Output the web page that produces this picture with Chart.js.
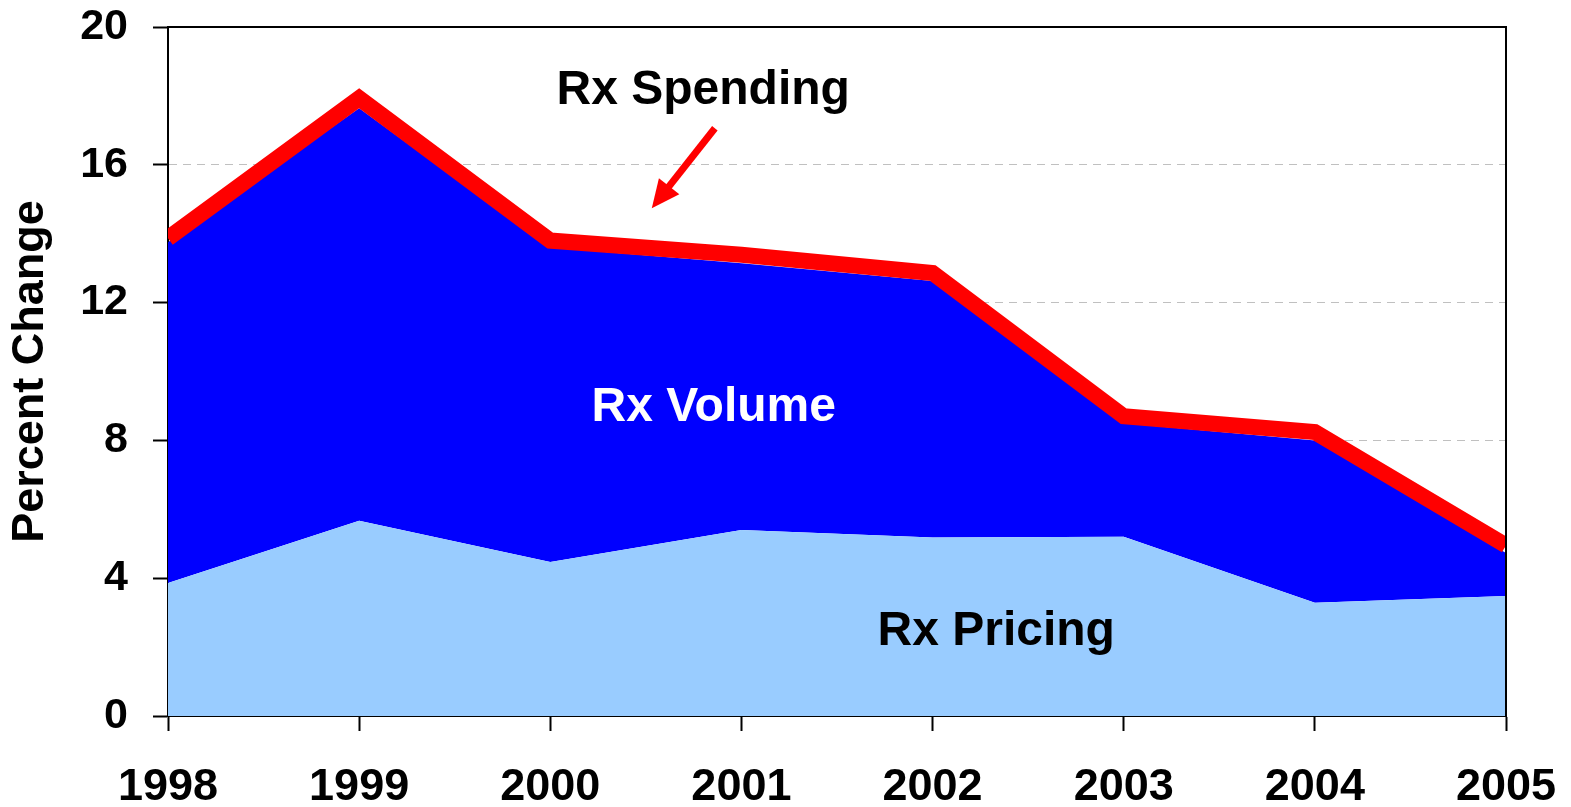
<!DOCTYPE html>
<html>
<head>
<meta charset="utf-8">
<script src="https://cdn.jsdelivr.net/npm/chart.js@4/dist/chart.umd.min.js"></script>
<style>
    html, body { margin: 0; padding: 0; background: #fff; }
    #wrap { width: 1571px; height: 807px; }
</style>
</head>
<body>
<div id="wrap"><canvas id="rxChart"></canvas></div>
<script>
// Values
const years = ['1998', '1999', '2000', '2001', '2002', '2003', '2004', '2005'];
const rxPricing = [3.86, 5.67, 4.47, 5.40, 5.18, 5.20, 3.29, 3.48];
const rxVolume = [9.89, 11.97, 9.13, 7.74, 7.45, 3.30, 4.71, 1.25];
const rxSpending = [13.87, 17.93, 13.80, 13.39, 12.86, 8.70, 8.24, 4.95];
const yTicks = [0, 4, 8, 12, 16, 20];

const FONT = '"Liberation Sans", Arial, sans-serif';

// Frame, labels and arrow drawn on top of the areas
const overlayPlugin = {
    id: 'overlay',
    afterDatasetsDraw(chart) {
        const ctx = chart.ctx;
        const area = chart.chartArea;
        const x = chart.scales.x;
        const y = chart.scales.y;

        ctx.save();
        // top and right frame
        ctx.strokeStyle = '#000';
        ctx.lineWidth = 2;
        ctx.beginPath();
        ctx.moveTo(area.left, area.top);
        ctx.lineTo(area.right, area.top);
        ctx.lineTo(area.right, area.bottom);
        ctx.stroke();

        // text labels
        ctx.font = 'bold 48px ' + FONT;
        ctx.textAlign = 'center';
        ctx.textBaseline = 'middle';
        ctx.fillStyle = '#000';
        ctx.fillText('Rx Spending', x.getPixelForValue(2.80), y.getPixelForValue(18.16));
        ctx.fillStyle = '#fff';
        ctx.fillText('Rx Volume', x.getPixelForValue(2.855), y.getPixelForValue(8.94));
        ctx.fillStyle = '#000';
        ctx.fillText('Rx Pricing', x.getPixelForValue(4.333), y.getPixelForValue(2.44));

        // arrow
        const x1 = x.getPixelForValue(2.861), y1 = y.getPixelForValue(17.06);
        const x2 = x.getPixelForValue(2.531), y2 = y.getPixelForValue(14.74);
        const ang = Math.atan2(y2 - y1, x2 - x1);
        const headLen = 28, headW = 13;
        ctx.strokeStyle = '#ff0000';
        ctx.fillStyle = '#ff0000';
        ctx.lineWidth = 7;
        ctx.beginPath();
        ctx.moveTo(x1, y1);
        ctx.lineTo(x2 - Math.cos(ang) * headLen * 0.8, y2 - Math.sin(ang) * headLen * 0.8);
        ctx.stroke();
        const bx = x2 - Math.cos(ang) * headLen, by = y2 - Math.sin(ang) * headLen;
        ctx.beginPath();
        ctx.moveTo(x2, y2);
        ctx.lineTo(bx + Math.sin(ang) * headW, by - Math.cos(ang) * headW);
        ctx.lineTo(bx - Math.sin(ang) * headW, by + Math.cos(ang) * headW);
        ctx.closePath();
        ctx.fill();
        ctx.restore();
    }
};

const ctx = document.getElementById('rxChart');

new Chart(ctx, {
    type: 'line',
    data: {
        labels: years,
        datasets: [
            {
                label: 'Rx Spending',
                data: rxSpending,
                yAxisID: 'y2',
                borderColor: '#ff0000',
                borderWidth: 16,
                fill: false,
                pointRadius: 0,
                tension: 0,
                clip: 0
            },
            {
                label: 'Rx Pricing',
                data: rxPricing,
                yAxisID: 'y',
                backgroundColor: '#99ccff',
                borderWidth: 0,
                fill: 'origin',
                pointRadius: 0,
                tension: 0
            },
            {
                label: 'Rx Volume',
                data: rxVolume,
                yAxisID: 'y',
                backgroundColor: '#0000ff',
                borderWidth: 0,
                fill: '-1',
                pointRadius: 0,
                tension: 0
            }
        ]
    },
    options: {
        responsive: true,
        maintainAspectRatio: false,
        animation: false,
        layout: {
            padding: { top: 27, right: 65, left: 0, bottom: 0 }
        },
        plugins: {
            legend: { display: false },
            tooltip: { enabled: false }
        },
        scales: {
            x: {
                offset: false,
                afterFit(scale) {
                    scale.height = 91;
                    scale.paddingLeft = 0;
                    scale.paddingRight = 0;
                },
                grid: {
                    drawOnChartArea: false,
                    tickLength: 15,
                    tickColor: '#000',
                    tickWidth: 2
                },
                border: { color: '#000', width: 2 },
                ticks: {
                    color: '#000',
                    font: { family: FONT, size: 45, weight: 'bold' },
                    padding: 30,
                    maxRotation: 0,
                    autoSkip: false
                }
            },
            y: {
                stacked: true,
                min: 0,
                max: 20,
                afterFit(scale) {
                    scale.width = 168;
                    scale.paddingTop = 0;
                    scale.paddingBottom = 0;
                },
                afterBuildTicks(scale) {
                    scale.ticks = yTicks.map(v => ({ value: v }));
                },
                grid: {
                    color: ctx => (ctx.tick && (ctx.tick.value === 0 || ctx.tick.value === 20)) ? 'rgba(0,0,0,0)' : '#c0c0c0',
                    lineWidth: 1,
                    tickLength: 15,
                    tickColor: '#000',
                    tickWidth: 2
                },
                border: { color: '#000', width: 2, dash: [8, 6] },
                ticks: {
                    color: '#000',
                    font: { family: FONT, size: 43, weight: 'bold' },
                    padding: 25
                },
                title: {
                    display: true,
                    text: 'Percent Change',
                    color: '#000',
                    font: { family: FONT, size: 45, weight: 'bold' },
                    padding: { top: 4, bottom: 0 }
                }
            },
            y2: {
                display: false,
                stacked: false,
                min: 0,
                max: 20
            }
        }
    },
    plugins: [overlayPlugin]
});
</script>
</body>
</html>
